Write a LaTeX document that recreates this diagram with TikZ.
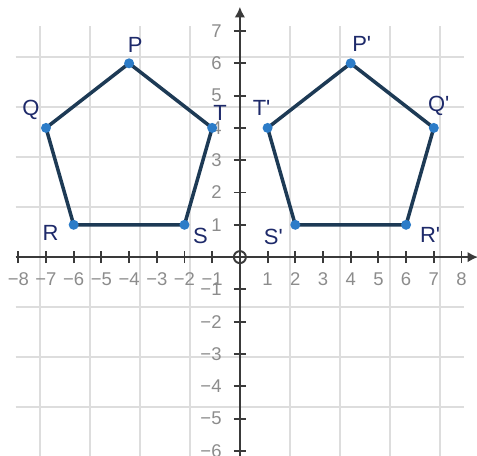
\documentclass[tikz,border=0pt]{standalone}
\usepackage{fontspec}
\setmainfont{Liberation Sans}
\usetikzlibrary{arrows.meta}
\definecolor{gridgray}{HTML}{DDDDDD}
\definecolor{axisgray}{HTML}{3A3A3A}
\definecolor{tickgray}{HTML}{8C8C8C}
\definecolor{edgenavy}{HTML}{1D3A55}
\definecolor{dotblue}{HTML}{2C7CC8}
\definecolor{labelnavy}{HTML}{1E2A6A}
\tikzset{
  ticklabel/.style={text=tickgray, font=\fontsize{10.5}{12}\selectfont, inner sep=0pt},
  vlabel/.style={text=labelnavy, font=\fontsize{12.5}{14}\selectfont, inner sep=0pt},
  edge/.style={draw=edgenavy, line width=2pt, line join=round},
}
\newcommand{\pr}{\textquotesingle}

\begin{document}
\begin{tikzpicture}[x=0.554cm, y=0.646cm, >=Latex]
\useasboundingbox (-8.66,-6.13) rectangle (8.56,7.96);
\fill[white] (-8.66,-6.13) rectangle (8.56,7.96);
\draw[gridgray, line width=1.1pt] (-8.1,-6.5) grid (8.1,7.15);
% axes
\draw[axisgray, line width=1.3pt, -{Latex[length=6pt,width=6pt]}] (-8.1,0) -- (8.6,0);
\draw[axisgray, line width=1.3pt, -{Latex[length=6pt,width=6pt]}] (0,-6.5) -- (0,7.75);
\draw[axisgray, line width=1.1pt] (0,0) circle (0.12cm);
\foreach \i in {1,...,8} {
  \draw[axisgray, line width=1.1pt] (\i,0) ++(0,-0.12cm) -- ++(0,0.24cm);
  \draw[axisgray, line width=1.1pt] (-\i,0) ++(0,-0.12cm) -- ++(0,0.24cm);
  \node[ticklabel] at (\i,-0.68) {\i};
  \node[ticklabel] at (-\i,-0.68) {−\i};
}
\foreach \i in {1,...,7} {
  \draw[axisgray, line width=1.1pt] (0,\i) ++(-0.12cm,0) -- ++(0.24cm,0);
  \node[ticklabel, anchor=east] at (-0.65,\i) {\i};
}
\foreach \i in {1,...,6} {
  \draw[axisgray, line width=1.1pt] (0,-\i) ++(-0.12cm,0) -- ++(0.24cm,0);
  \node[ticklabel, anchor=east] at (-0.65,-\i) {−\i};
}
% pentagon PQRST
\coordinate (P) at (-4,6);\coordinate (Q) at (-7,4);\coordinate (R) at (-6,1);
\coordinate (S) at (-2,1);\coordinate (T) at (-1,4);
\draw[edge] (P) -- (Q) -- (R) -- (S) -- (T) -- cycle;
% image P'Q'R'S'T'
\coordinate (P') at (4,6);\coordinate (Q') at (7,4);\coordinate (R') at (6,1);
\coordinate (S') at (2,1);\coordinate (T') at (1,4);
\draw[edge] (P') -- (Q') -- (R') -- (S') -- (T') -- cycle;
\foreach \v in {P,Q,R,S,T,P',Q',R',S',T'} \fill[dotblue] (\v) circle (0.1cm);
\node[vlabel, xshift=0.12cm, yshift=0.36cm] at (P) {P};
\node[vlabel, xshift=-0.30cm, yshift=0.36cm] at (Q) {Q};
\node[vlabel, xshift=-0.46cm, yshift=-0.16cm] at (R) {R};
\node[vlabel, xshift=0.32cm, yshift=-0.22cm] at (S) {S};
\node[vlabel, xshift=0.16cm, yshift=0.30cm] at (T) {T};
\node[vlabel, xshift=0.22cm, yshift=0.38cm] at (P') {P\pr};
\node[vlabel, xshift=0.10cm, yshift=0.44cm] at (Q') {Q\pr};
\node[vlabel, xshift=0.48cm, yshift=-0.20cm] at (R') {R\pr};
\node[vlabel, xshift=-0.44cm, yshift=-0.24cm] at (S') {S\pr};
\node[vlabel, xshift=-0.12cm, yshift=0.40cm] at (T') {T\pr};
\end{tikzpicture}
\end{document}
